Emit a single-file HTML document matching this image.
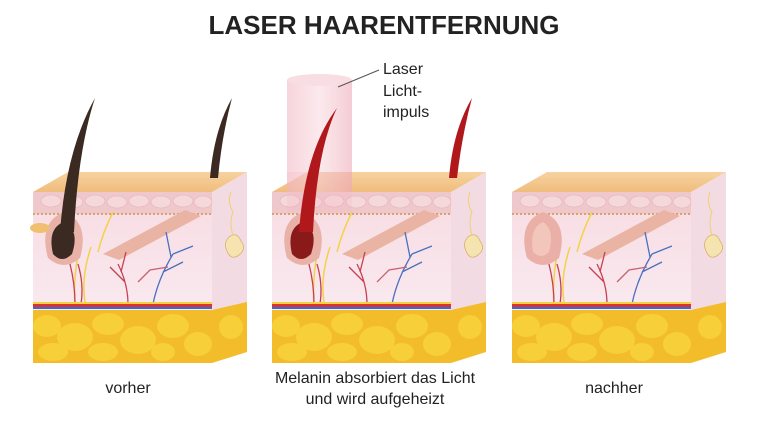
<!DOCTYPE html>
<html><head><meta charset="utf-8"><style>
html,body{margin:0;padding:0;background:#fff;width:768px;height:431px;overflow:hidden}
svg{display:block}
text{font-family:"Liberation Sans",sans-serif;fill:#222}
</style></head><body>
<svg width="768" height="431" viewBox="0 0 768 431" xmlns="http://www.w3.org/2000/svg">
<defs>
<linearGradient id="top" x1="0" y1="0" x2="0" y2="1"><stop offset="0" stop-color="#f7d3a0"/><stop offset="1" stop-color="#f0bc7c"/></linearGradient>
<linearGradient id="pink" x1="0" y1="0" x2="0" y2="1"><stop offset="0" stop-color="#f8dce2"/><stop offset="1" stop-color="#f9e9f0"/></linearGradient>
<linearGradient id="laser" x1="0" y1="0" x2="1" y2="0"><stop offset="0" stop-color="#f2b8c4" stop-opacity=".6"/><stop offset=".5" stop-color="#f7d3da" stop-opacity=".5"/><stop offset="1" stop-color="#eeaab8" stop-opacity=".6"/></linearGradient>
<g id="blk">
  <polygon points="179,0 214,-20 214,118 179,118" fill="#f3dbe4"/>
  <polygon points="179,118 214,110 214,160 179,171" fill="#f2bc2a"/>
  <rect x="0" y="0" width="179" height="118" fill="url(#pink)"/>
  <rect x="0" y="0" width="179" height="22" fill="#efc8cb"/>
  <g fill="#f5d8da" stroke="#e7b1b4" stroke-width=".6">
    <ellipse cx="18" cy="9" rx="10" ry="6"/><ellipse cx="40" cy="10" rx="10" ry="6"/><ellipse cx="62" cy="9" rx="10" ry="6"/><ellipse cx="84" cy="10" rx="10" ry="6"/><ellipse cx="106" cy="9" rx="10" ry="6"/><ellipse cx="128" cy="10" rx="10" ry="6"/><ellipse cx="150" cy="9" rx="10" ry="6"/><ellipse cx="170" cy="10" rx="9" ry="6"/>
  </g>
  <line x1="0" y1="22" x2="179" y2="22" stroke="#d9a26a" stroke-width="2" stroke-dasharray="2 2"/>
  <polygon points="70,62 152,18 168,24 86,68" fill="#eab4a4"/>
  <path d="M196,45 q8,-6 12,4 q6,8 -2,14 q-8,6 -12,-4 q-4,-8 2,-14z" fill="#f6e4b0" stroke="#d8b070" stroke-width=".8"/>
  <path d="M198,0 q-4,10 2,20 q-4,10 0,24" fill="none" stroke="#f0d070" stroke-width="1"/>
  <path d="M45,62 q-5,30 -3,50 M58,55 q-10,30 -6,55 M80,20 q-10,20 -15,40" fill="none" stroke="#f2d24a" stroke-width="1.5"/>
  <g fill="none" stroke-width="1.3">
    <path d="M95,112 q0,-20 -10,-40 M92,90 l-15,-15 M88,80 l5,-20" stroke="#c84050"/>
    <path d="M120,112 q5,-25 20,-50 M130,80 l20,-10 M138,65 l-5,-25 M140,62 l20,-8" stroke="#4a70c0"/>
    <path d="M105,90 l12,-12 l18,-3" stroke="#c86070"/>
    <path d="M42,112 q0,-20 -5,-40 M48,112 q3,-20 -3,-40" stroke="#c84050"/>
  </g>
  <rect x="0" y="110" width="179" height="2" fill="#f2d240"/>
  <rect x="0" y="112" width="179" height="3" fill="#e03030"/>
  <rect x="0" y="115" width="179" height="2" fill="#3070d0"/>
  <rect x="0" y="118" width="179" height="53" fill="#f2bc2a"/>
  <g fill="#f7cf38">
    <ellipse cx="14" cy="134" rx="14" ry="11"/><ellipse cx="42" cy="145" rx="18" ry="14"/><ellipse cx="75" cy="132" rx="16" ry="11"/><ellipse cx="105" cy="148" rx="18" ry="14"/><ellipse cx="140" cy="134" rx="16" ry="12"/><ellipse cx="165" cy="152" rx="14" ry="12"/><ellipse cx="20" cy="160" rx="15" ry="9"/><ellipse cx="70" cy="160" rx="15" ry="9"/><ellipse cx="130" cy="160" rx="12" ry="9"/><ellipse cx="198" cy="135" rx="12" ry="12"/>
  </g>
  <polygon points="0,0 179,0 214,-20 35,-20" fill="url(#top)"/>
</g>
</defs>

<text x="384" y="34" text-anchor="middle" font-size="26" font-weight="bold" fill="#111">LASER HAARENTFERNUNG</text>

<!-- Block 1 -->
<use href="#blk" x="33" y="192"/>
<path d="M48,258 q-10,-36 16,-46 q26,10 16,46 q-16,14 -32,0z" fill="#e9b2a8"/>
<path d="M53,254 q-6,-26 11,-32 q16,8 8,32 q-10,10 -19,0z" fill="#3a2a22"/>
<path d="M60,232 Q66,150 95,98 Q78,150 74,232z" fill="#3a2a22"/>
<path d="M210,178 Q214,130 232,98 Q222,135 218,178z" fill="#3a2a22"/>
<ellipse cx="40" cy="228" rx="10" ry="5" fill="#f0c070"/>

<!-- Block 2 -->
<use href="#blk" x="272" y="192"/>
<rect x="287" y="80" width="65" height="112" fill="url(#laser)"/>
<rect x="287" y="172" width="65" height="40" fill="#f0b0c0" opacity=".2"/>
<ellipse cx="319.5" cy="80" rx="32.5" ry="6" fill="#f8dde2"/>
<path d="M287,258 q-10,-36 16,-46 q26,10 16,46 q-16,14 -32,0z" fill="#e9b2a8"/>
<path d="M292,254 q-6,-26 11,-32 q16,8 8,32 q-10,10 -19,0z" fill="#8a1a1a"/>
<path d="M299,232 Q305,150 337,108 Q317,150 313,232z" fill="#b0181c"/>
<path d="M449,178 Q453,130 472,98 Q462,135 457,178z" fill="#b0181c"/>
<line x1="338" y1="87" x2="379" y2="70" stroke="#555" stroke-width="1"/>
<text x="383" y="74" font-size="16">Laser</text>
<text x="383" y="96" font-size="16">Licht-</text>
<text x="383" y="117" font-size="16">impuls</text>

<!-- Block 3 -->
<use href="#blk" x="512" y="192"/>
<path d="M527,258 q-10,-36 16,-46 q26,10 16,46 q-16,14 -32,0z" fill="#eab0a8"/>
<path d="M533,252 q-4,-24 10,-30 q12,8 6,30 q-8,8 -16,0z" fill="#f3c6bc"/>

<text x="128" y="393" text-anchor="middle" font-size="16">vorher</text>
<text x="375" y="383" text-anchor="middle" font-size="16">Melanin absorbiert das Licht</text>
<text x="375" y="404" text-anchor="middle" font-size="16">und wird aufgeheizt</text>
<text x="614" y="393" text-anchor="middle" font-size="16">nachher</text>
</svg>
</body></html>
